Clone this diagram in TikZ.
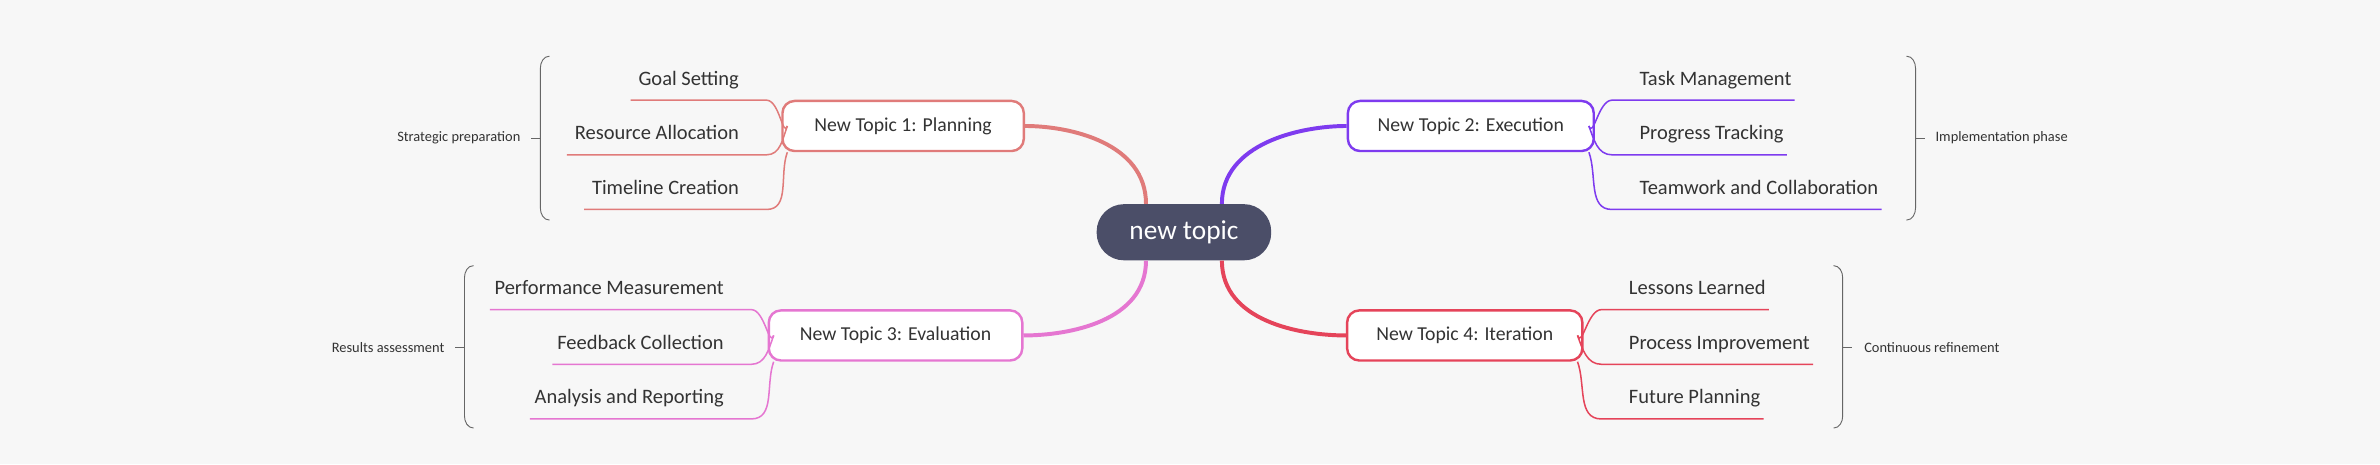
\documentclass[tikz,border=0pt]{standalone}
\usepackage{fontspec}
\setmainfont{Carlito}
\usetikzlibrary{calc}
\definecolor{bg}{HTML}{F7F7F7}
\definecolor{ink}{HTML}{333333}
\definecolor{core}{HTML}{4B4E68}
\definecolor{cA}{HTML}{E07B7A}
\definecolor{cB}{HTML}{7E3BEF}
\definecolor{cC}{HTML}{E576D1}
\definecolor{cD}{HTML}{E5445A}
\begin{document}
\begin{tikzpicture}[
    x=1pt, y=-1pt,
    root/.style  = {fill=core, text=white, rounded corners=18pt, minimum width=115pt,
                    minimum height=37pt, font=\fontsize{18}{20}\selectfont},
    topic/.style = {draw=#1, fill=white, line width=1.6pt, rounded corners=8pt,
                    minimum height=33pt, text=ink, font=\fontsize{13}{15}\selectfont},
    leaf/.style  = {inner sep=0pt, text=ink, font=\fontsize{13.5}{15}\selectfont},
    note/.style  = {inner sep=0pt, text=ink, font=\fontsize{9.5}{11}\selectfont},
    main/.style  = {draw=#1, line width=2.6pt},
    twig/.style  = {draw=#1, line width=1pt},
    brace/.style = {draw=gray!80!black, line width=0.6pt},
  ]
  \useasboundingbox[fill=bg] (0,0) rectangle (1568,306);

  % Kern und Hauptthemen
  \node[root] (R) at (780,153) {new topic};
  \node[topic=cA, minimum width=159pt] (T1) at (595,83) {New Topic 1: Planning};
  \node[topic=cB, minimum width=162pt] (T2) at (969,83) {New Topic 2: Execution};
  \node[topic=cC, minimum width=167pt] (T3) at (590,221) {New Topic 3: Evaluation};
  \node[topic=cD, minimum width=155pt] (T4) at (965,221) {New Topic 4: Iteration};

  \draw[main=cA] ([xshift=-25pt]R.north) .. controls +(0,-40) and +(30,0) .. (T1.east);
  \draw[main=cB] ([xshift=25pt]R.north) .. controls +(0,-40) and +(-30,0) .. (T2.west);
  \draw[main=cC] ([xshift=-25pt]R.south) .. controls +(0,40) and +(30,0) .. (T3.east);
  \draw[main=cD] ([xshift=25pt]R.south) .. controls +(0,40) and +(-30,0) .. (T4.west);

  % Unterthemen links (T1)
  \node[leaf, anchor=base east] (A1) at (487,56) {Goal Setting};
  \node[leaf, anchor=base east] (A2) at (487,92) {Resource Allocation};
  \node[leaf, anchor=base east] (A3) at (487,128) {Timeline Creation};
  \foreach \n/\e in {A1/T1.west, A2/T1.west, A3/T1.south west} {
    \draw[twig=cA] ($(\n.base west)+(-5,10)$) -- ($(\n.base east)+(18,10)$)
      to[out=0, in=250] ([xshift=4pt]\e);
  }

  % Unterthemen rechts (T2)
  \node[leaf, anchor=base west] (B1) at (1080,56) {Task Management};
  \node[leaf, anchor=base west] (B2) at (1080,92) {Progress Tracking};
  \node[leaf, anchor=base west] (B3) at (1080,128) {Teamwork and Collaboration};
  \foreach \n/\e in {B1/T2.east, B2/T2.east, B3/T2.south east} {
    \draw[twig=cB] ($(\n.base east)+(2,10)$) -- ($(\n.base west)+(-18,10)$)
      to[out=180, in=290] ([xshift=-4pt]\e);
  }

  % Unterthemen links (T3)
  \node[leaf, anchor=base east] (C1) at (477,194) {Performance Measurement};
  \node[leaf, anchor=base east] (C2) at (477,230) {Feedback Collection};
  \node[leaf, anchor=base east] (C3) at (477,266) {Analysis and Reporting};
  \foreach \n/\e in {C1/T3.west, C2/T3.west, C3/T3.south west} {
    \draw[twig=cC] ($(\n.base west)+(-3,10)$) -- ($(\n.base east)+(18,10)$)
      to[out=0, in=250] ([xshift=4pt]\e);
  }

  % Unterthemen rechts (T4)
  \node[leaf, anchor=base west] (D1) at (1073,194) {Lessons Learned};
  \node[leaf, anchor=base west] (D2) at (1073,230) {Process Improvement};
  \node[leaf, anchor=base west] (D3) at (1073,266) {Future Planning};
  \foreach \n/\e in {D1/T4.east, D2/T4.east, D3/T4.south east} {
    \draw[twig=cD] ($(\n.base east)+(2,10)$) -- ($(\n.base west)+(-18,10)$)
      to[out=180, in=290] ([xshift=-4pt]\e);
  }

  % Klammern mit Notizen
  \draw[brace] (362,37) to[out=180, in=90] (356,45) -- (356,137) to[out=270, in=180] (362,145);
  \draw[brace] (356,91) -- (350,91);
  \node[note, anchor=east] (NA) at (343,91) {Strategic preparation};

  \draw[brace] (1256,37) to[out=0, in=90] (1262,45) -- (1262,137) to[out=270, in=0] (1256,145);
  \draw[brace] (1262,91) -- (1268,91);
  \node[note, anchor=west] (NB) at (1275,91) {Implementation phase};

  \draw[brace] (312,175) to[out=180, in=90] (306,183) -- (306,274) to[out=270, in=180] (312,282);
  \draw[brace] (306,229) -- (300,229);
  \node[note, anchor=east] (NC) at (293,229) {Results assessment};

  \draw[brace] (1208,175) to[out=0, in=90] (1214,183) -- (1214,274) to[out=270, in=0] (1208,282);
  \draw[brace] (1214,229) -- (1220,229);
  \node[note, anchor=west] (ND) at (1228,229) {Continuous refinement};
\end{tikzpicture}
\end{document}
